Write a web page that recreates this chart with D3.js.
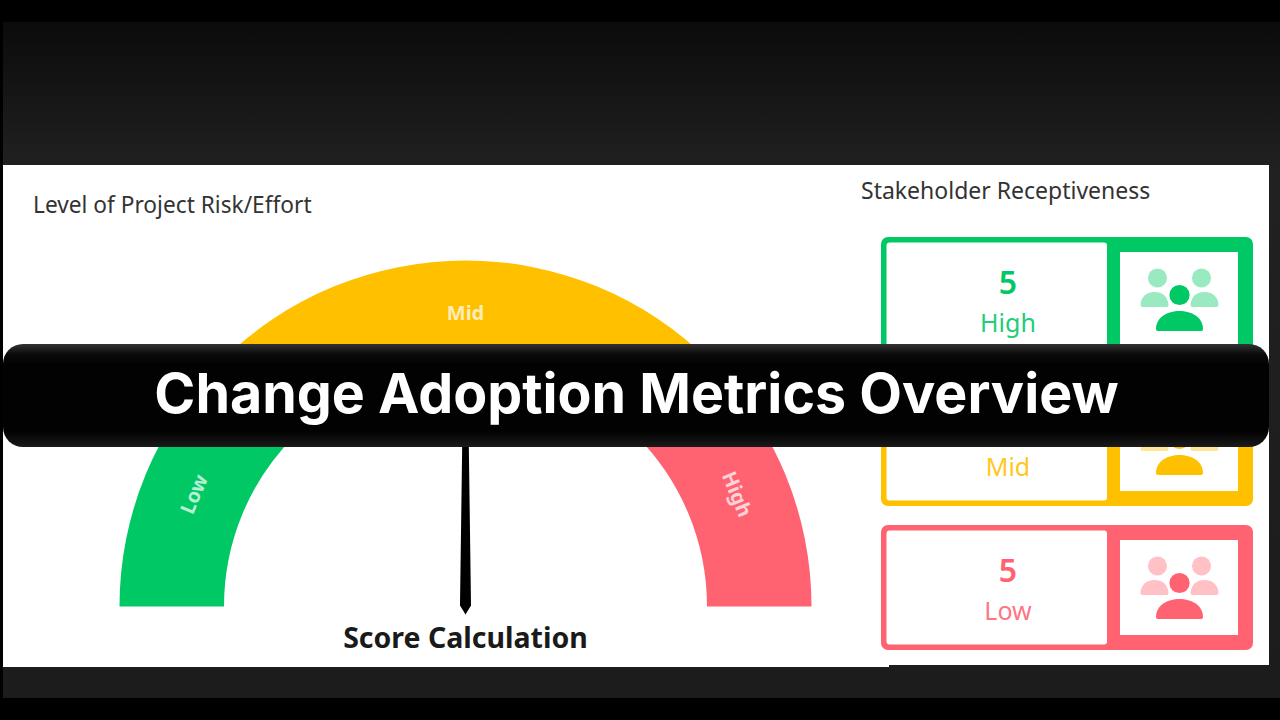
<!DOCTYPE html>
<html>
<head>
<meta charset="utf-8">
<script src="https://cdn.jsdelivr.net/npm/d3@7"></script>
<style>
  html, body { margin: 0; padding: 0; background: #000; overflow: hidden; }
  svg { display: block; }
  text { font-family: "Noto Sans", "Open Sans", sans-serif; }
  text.banner { font-family: Inter, sans-serif; }
</style>
</head>
<body>
<svg id="chart" width="1280" height="720"></svg>
<script>
// gauge data
const gaugeLabels = ['Low', 'Mid', 'High'];
const gaugeValues = [25, 50, 25];
const gaugeColors = ['#00c864', '#ffc000', '#ff6271'];
const needleScore = 50;

// stakeholder cards, the Mid count sits behind the banner so it can't be read
const cardLabels = ['High', 'Mid', 'Low'];
const cardValues = [5, null, 5];
const cardColors = ['#00c864', '#ffc000', '#ff6271'];
const cardSoft = ['#99e9c1', '#ffe699', '#ffc0c6'];

const bannerTitle = 'Change Adoption Metrics Overview';

const svg = d3.select('#chart');
const defs = svg.append('defs');

const bg = defs.append('linearGradient').attr('id', 'bg').attr('x1', 0).attr('x2', 0).attr('y1', 0).attr('y2', 1);
bg.append('stop').attr('offset', 0).attr('stop-color', '#0b0b0b');
bg.append('stop').attr('offset', 0.22).attr('stop-color', '#212121');
bg.append('stop').attr('offset', 1).attr('stop-color', '#1c1c1c');

const bevel = defs.append('linearGradient').attr('id', 'bevel').attr('x1', 0).attr('x2', 0).attr('y1', 0).attr('y2', 1);
bevel.append('stop').attr('offset', 0).attr('stop-color', '#333');
bevel.append('stop').attr('offset', 0.1).attr('stop-color', '#0a0a0a');
bevel.append('stop').attr('offset', 0.2).attr('stop-color', '#020202');
bevel.append('stop').attr('offset', 0.85).attr('stop-color', '#020202');
bevel.append('stop').attr('offset', 1).attr('stop-color', '#1a1a1a');

// backdrop
svg.append('rect').attr('x', 3).attr('y', 22).attr('width', 1277).attr('height', 676).attr('fill', 'url(#bg)');
svg.append('rect').attr('x', 3).attr('y', 165).attr('width', 886).attr('height', 502).attr('fill', '#fff');
svg.append('rect').attr('x', 889).attr('y', 165).attr('width', 380).attr('height', 500).attr('fill', '#fff');

// gauge
const cx = 465.5, cy = 606.5, outerR = 346, innerR = 241.5;
const pie = d3.pie().sort(null).startAngle(-Math.PI / 2).endAngle(Math.PI / 2);
const arc = d3.arc().innerRadius(innerR).outerRadius(outerR);
const arcs = pie(gaugeValues);
const gauge = svg.append('g').attr('transform', `translate(${cx},${cy})`);

gauge.selectAll('path.seg')
  .data(arcs)
  .enter()
  .append('path')
  .attr('class', 'seg')
  .attr('d', arc)
  .attr('fill', (d, i) => gaugeColors[i]);

gauge.selectAll('text.seg-label')
  .data(arcs)
  .enter()
  .append('text')
  .attr('class', 'seg-label')
  .attr('transform', d => {
    const c = arc.centroid(d);
    const mid = (d.startAngle + d.endAngle) / 2;
    return `translate(${c[0]},${c[1]}) rotate(${mid * 180 / Math.PI})`;
  })
  .attr('text-anchor', 'middle')
  .attr('dy', '0.35em')
  .attr('font-size', 20)
  .attr('font-weight', 700)
  .attr('fill', 'rgba(255,255,255,0.72)')
  .text((d, i) => gaugeLabels[i]);

// needle, base hangs just under the hub and tapers up the scale value
const total = d3.sum(gaugeValues);
const needleAngle = d3.scaleLinear().domain([0, total]).range([-90, 90]);
gauge.append('path')
  .attr('transform', `rotate(${needleAngle(needleScore)})`)
  .attr('d', d3.line()([[-5.5, -1], [0, 8], [5.5, -1], [2.5, -220], [-2.5, -220]]) + 'Z')
  .attr('fill', '#000');

svg.append('text')
  .attr('x', cx).attr('y', 648)
  .attr('text-anchor', 'middle')
  .attr('font-size', 28.5)
  .attr('font-weight', 700)
  .attr('fill', '#1a1a1a')
  .text('Score Calculation');

svg.append('text').attr('x', 33).attr('y', 213)
  .attr('font-size', 22.7).attr('fill', '#333')
  .text('Level of Project Risk/Effort');
svg.append('text').attr('x', 861).attr('y', 199)
  .attr('font-size', 23).attr('fill', '#333')
  .text('Stakeholder Receptiveness');

// cards
const cardY = d3.scaleBand().domain(cardLabels).range([237, 650]).paddingInner(0.132);
const cardW = 372, cardH = cardY.bandwidth();
const cards = svg.selectAll('g.card')
  .data(cardLabels)
  .enter()
  .append('g')
  .attr('class', 'card')
  .attr('transform', d => `translate(881,${cardY(d)})`);

cards.append('rect').attr('width', cardW).attr('height', cardH).attr('rx', 7)
  .attr('fill', (d, i) => cardColors[i]);
cards.append('rect').attr('x', 5.5).attr('y', 5.5).attr('width', 220.5).attr('height', cardH - 11).attr('rx', 3)
  .attr('fill', '#fff');
cards.append('rect').attr('x', 239).attr('y', 15).attr('width', 118).attr('height', 95)
  .attr('fill', '#fff');

cards.filter((d, i) => cardValues[i] !== null)
  .append('text').attr('x', 127).attr('y', 57)
  .attr('text-anchor', 'middle').attr('font-size', 32).attr('font-weight', 600)
  .attr('fill', d => cardColors[cardLabels.indexOf(d)])
  .text(d => cardValues[cardLabels.indexOf(d)]);
cards.append('text').attr('x', 127).attr('y', 95)
  .attr('text-anchor', 'middle').attr('font-size', 25)
  .attr('fill', (d, i) => cardColors[i])
  .attr('fill-opacity', 0.9)
  .text(d => d);

// people icon
function dome(x, y, w, h) {
  const p = d3.path();
  p.moveTo(x + 2, y + h);
  p.quadraticCurveTo(x, y + h, x, y + h - 2);
  p.bezierCurveTo(x, y + h * 0.3, x + w * 0.25, y, x + w / 2, y);
  p.bezierCurveTo(x + w * 0.75, y, x + w, y + h * 0.3, x + w, y + h - 2);
  p.quadraticCurveTo(x + w, y + h, x + w - 2, y + h);
  p.closePath();
  return p.toString();
}
const icon = cards.append('g').attr('transform', 'translate(298.5,0)');
[-1, 1].forEach(s => {
  icon.append('circle').attr('cx', s * 22).attr('cy', 41).attr('r', 9.5)
    .attr('fill', (d, i) => cardSoft[i]);
  icon.append('path').attr('d', dome(s * 25 - 14, 55, 28, 15))
    .attr('fill', (d, i) => cardSoft[i]);
});
icon.append('circle').attr('cx', 0).attr('cy', 58).attr('r', 11.6)
  .attr('fill', (d, i) => cardColors[i])
  .attr('stroke', '#fff').attr('stroke-width', 3);
icon.append('path').attr('d', dome(-23.5, 74, 47, 20))
  .attr('fill', (d, i) => cardColors[i]);

// banner over everything
svg.append('rect').attr('x', 3).attr('y', 344).attr('width', 1266).attr('height', 103).attr('rx', 20)
  .attr('fill', 'url(#bevel)');
svg.append('text').attr('class', 'banner').attr('x', 636.5).attr('y', 413)
  .attr('text-anchor', 'middle')
  .attr('font-size', 55.5)
  .attr('font-weight', 700)
  .attr('fill', '#fff')
  .text(bannerTitle);
</script>
</body>
</html>
